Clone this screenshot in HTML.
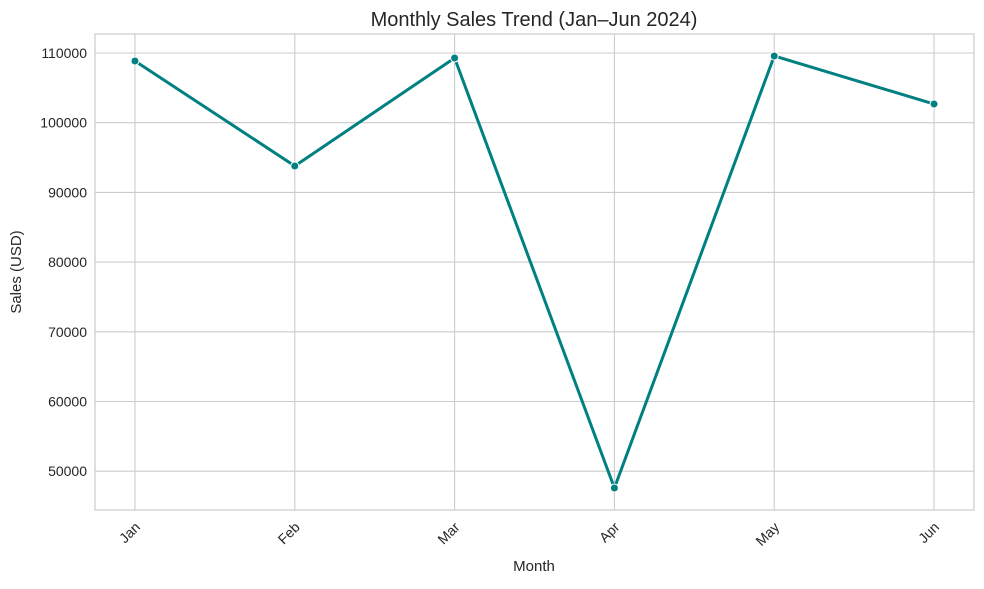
<!DOCTYPE html>
<html><head><meta charset="utf-8"><style>
body{margin:0;background:#fff;font-family:"Liberation Sans","DejaVu Sans",sans-serif;}
</style></head><body>
<svg id="chart" width="984" height="584" xmlns="http://www.w3.org/2000/svg">
<g id="grid"></g>
<rect x="95" y="34" width="879" height="476" fill="none" stroke="#cccccc" stroke-width="1.2"/>
<g id="ticks"></g>
<g id="series"></g>
<text x="534" y="26" text-anchor="middle" font-size="20" fill="#262626">Monthly Sales Trend (Jan–Jun 2024)</text>
<text x="534" y="571" text-anchor="middle" font-size="15" fill="#262626">Month</text>
<text transform="translate(21,272) rotate(-90)" text-anchor="middle" font-size="15" fill="#262626">Sales (USD)</text>
</svg>
<script>
const months = ["Jan","Feb","Mar","Apr","May","Jun"];
const sales = [108850, 93790, 109280, 47590, 109570, 102680];
const yTicks = [50000, 60000, 70000, 80000, 90000, 100000, 110000];
const NS="http://www.w3.org/2000/svg";
const L=95,R=974,T=34,B=510;
const xMin=-0.25,xMax=5.25,yMin=44433,yMax=112726;
function xs(i){return L+(i-xMin)/(xMax-xMin)*(R-L);}
function ys(v){return B-(v-yMin)/(yMax-yMin)*(B-T);}
function mk(tag,attrs,parent){const e=document.createElementNS(NS,tag);for(const k in attrs)e.setAttribute(k,attrs[k]);parent.appendChild(e);return e;}
const grid=document.getElementById('grid'),ticks=document.getElementById('ticks'),series=document.getElementById('series');
yTicks.forEach(v=>{
  const l=mk('line',{x1:L,x2:R,y1:ys(v),y2:ys(v),stroke:'#cccccc','stroke-width':1.1},grid);
  
  
  const t=mk('text',{x:L-8,y:ys(v)+5,'text-anchor':'end','font-size':14,fill:'#262626'},ticks);
  t.textContent=v;
  
  
});
months.forEach((m,i)=>{
  const x=xs(i);
  const l=mk('line',{x1:x,x2:x,y1:T,y2:B,stroke:'#cccccc','stroke-width':1.1},grid);
  
  
  const t=mk('text',{x:x+6,y:528,'text-anchor':'end','font-size':14,fill:'#262626',transform:`rotate(-45 ${x+6} 528)`},ticks);
  t.textContent=m;
  
  
});
const pts=sales.map((v,i)=>xs(i)+','+ys(v)).join(' ');
const pl=mk('polyline',{points:pts,fill:'none',stroke:'#008080','stroke-width':3,'stroke-linejoin':'round'},series);


sales.forEach((v,i)=>{
  const c=mk('circle',{cx:xs(i),cy:ys(v),r:4,fill:'#008080',stroke:'#fff','stroke-width':1},series);
  
  
});
</script>
</body></html>
